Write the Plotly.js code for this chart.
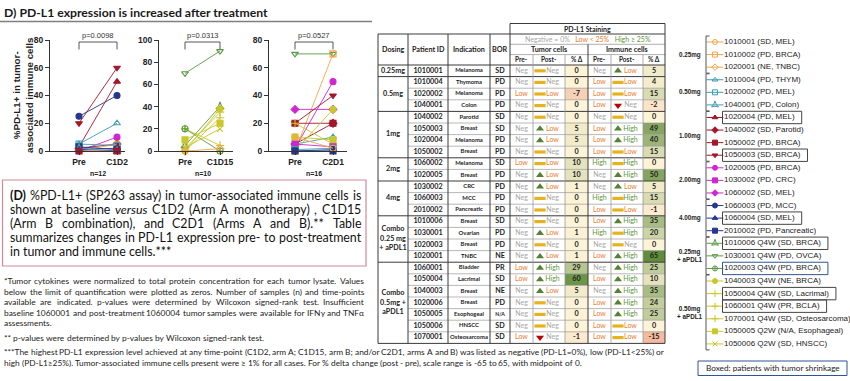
<!DOCTYPE html>
<html><head><meta charset="utf-8">
<script src="https://cdn.plot.ly/plotly-3.0.1.min.js"></script>
<style>html,body{margin:0;padding:0;background:#fff;overflow:hidden}#chart{width:850px;height:381px}</style>
</head><body><div id="chart"></div>
<script>
// ================= DATA =================
const titleText = 'D) PD-L1 expression is increased after treatment';
const yAxisTitle = '%PD-L1+ in tumor-<br>associated immune cells';
const preLabel = 'Pre';
const postLabels = ['C1D2', 'C1D15', 'C2D1'];
const nLabels = ['n=12', 'n=10', 'n=16'];
const pLabels = ['p=0.0098', 'p=0.0313', 'p=0.0527'];
const yTicksA = [0, 20, 40, 60, 80];
const yTicksB = [0, 20, 40, 60, 80, 100];
const yTicksAB = [0, 20, 40, 60, 80];

// Arm A (C1D2)
const armA_ids  = ['1060003','1050003','1020004','1010004','1020005','1040002','1010001','1020002','1060004','2010002','1040001','1050002'];
const armA_pre  = [25, 20, 3, 5, 0, 2, 0, 5, 1, 3, 2, 0];
const armA_post = [40, 60, 50, 20, 10, 5, 5, 4, 2, 1, 0, 0];
// Arm B (C1D15)
const armB_ids  = ['1030001','1060001','1020003','1010006','1040003','1050004','1070001','1050005','1050006','1020001'];
const armB_pre  = [70, 20, 20, 5, 0, 2, 0, 10, 3, 0];
const armB_post = [90, 5, 0, 40, 38, 35, 30, 25, 20, 2];
// Arms A and B (C2D1)
const armAB_ids  = ['1030001','1010002','1060002','1020005','1050003','1050002','1040002','1010004','1060001','1050005','1040003','1030002','1060003','1020002','2010002','1010001'];
const armAB_pre  = [70, 0, 30, 2, 20, 20, 5, 5, 20, 10, 0, 5, 0, 1, 0, 10];
const armAB_post = [70, 70, 30, 50, 40, 20, 20, 10, 5, 8, 30, 3, 1, 2, 0, 2];

// Legend (patients by cohort)
const legendGroups = ['0.25mg', '0.50mg', '1.00mg', '2.00mg', '4.00mg', '0.25mg<br>+ aPDL1', '0.50mg<br>+ aPDL1'];
const legendGroupSizes = [3, 3, 4, 3, 3, 3, 6];
const legendIds = ['1010001','1010002','1020001','1010004','1020002','1040001','1020004','1040002','1050002','1050003',
  '1020005','1030002','1060002','1060003','1060004','2010002','1010006','1030001','1020003',
  '1040003','1050004','1060001','1070001','1050005','1050006'];
const legendLabels = ['1010001 (SD, MEL)','1010002 (PD, BRCA)','1020001 (NE, TNBC)','1010004 (PD, THYM)','1020002 (PD, MEL)',
  '1040001 (PD, Colon)','1020004 (PD, MEL)','1040002 (SD, Parotid)','1050002 (PD, BRCA)','1050003 (SD, BRCA)',
  '1020005 (PD, BRCA)','1030002 (PD, CRC)','1060002 (SD, MEL)','1060003 (PD, MCC)','1060004 (SD, MEL)',
  '2010002 (PD, Pancreatic)','1010006 Q4W (SD, BRCA)','1030001 Q4W (PD, OVCA)','1020003 Q4W (PD, BRCA)',
  '1040003 Q4W (NE, BRCA)','1050004 Q4W (SD, Lacrimal)','1060001 Q4W (PR, BCLA)','1070001 Q4W (SD, Osteosarcoma)',
  '1050005 Q2W (N/A, Esophageal)','1050006 Q2W (SD, HNSCC)'];
const boxedIds = ['1020004','1050003','1060004','1010006','1020003','1050004','1060001'];
const boxedNote = 'Boxed: patients with tumor shrinkage';

// Table
const tblHeadLeft = ['Dosing', 'Patient ID', 'Indication', 'BOR'];
const tblStaining = 'PD-L1 Staining';
const tblLevels = ['Neg', 'Low', 'High'];
const tblLevelKey = ['Negative = 0%', 'Low < 25%', 'High ≥ 25%'];
const tblCellGroups = ['Tumor cells', 'Immune cells'];
const tblSubHead = ['Pre-', 'Post-', '% Δ'];
const tblDosing = ['0.25mg', '0.5mg', '1mg', '2mg', '4mg', 'Combo<br>0.25 mg<br>+ aPDL1', 'Combo<br>0.5mg +<br>aPDL1'];
const tblDosingRows = [1, 3, 4, 2, 3, 4, 7];
const tblIds = ['1010001','1010004','1020002','1040001','1040002','1050003','1020004','1050002','1060002','1020005',
  '1030002','1060003','2010002','1010006','1030001','1020003','1020001','1060001','1050004','1040003','1020006',
  '1050005','1050006','1070001'];
const tblIndication = ['Melanoma','Thymoma','Melanoma','Colon','Parotid','Breast','Melanoma','Breast','Melanoma','Breast',
  'CRC','MCC','Pancreatic','Breast','Ovarian','Breast','TNBC','Bladder','Lacrimal','Breast','Breast','Esophogeal','HNSCC','Osteosarcoma'];
const tblBOR = ['SD','PD','PD','PD','SD','SD','PD','PD','SD','PD','PD','PD','PD','SD','PD','PD','NE','PR','SD','NE','PD','N/A','SD','SD'];
const tumorPre   = ['Neg','Neg','Low','Neg','Neg','Neg','Neg','Neg','Low','Neg','Neg','Neg','Neg','Neg','Neg','Neg','Neg','Low','Low','Neg','Neg','Neg','Neg','Low'];
const tumorPost  = ['Neg','Neg','Low','Neg','Neg','Low','Low','Neg','Low','Low','Low','Neg','Neg','Neg','Low','Neg','Low','High','High','Low','Neg','Neg','Neg','Neg'];
const tumorDelta = [0, 0, -7, 0, 0, 5, 5, 0, 10, 10, 1, 0, 0, 0, 1, 0, 1, 29, 60, 5, 0, 0, 0, -1];
const immunePre  = ['Neg','Low','Low','Low','Neg','Low','Low','Low','High','Neg','Neg','High','Low','Low','High','Neg','Low','Neg','Low','Neg','Low','Low','Low','Low'];
const immunePost = ['Low','Low','Low','Neg','Neg','High','High','Low','High','High','Low','High','Low','High','High','Neg','High','High','High','High','High','High','Low','Low'];
const immuneDelta = [5, 4, 15, -2, 0, 49, 40, 15, 0, 50, 5, 15, -1, 35, 20, 0, 65, 25, 10, 35, 24, 25, 0, -15];

// Text blocks
const paraLines = [
  '<b>(D)</b> %PD-L1+ (SP263 assay) in tumor-associated immune cells is',
  'shown at baseline <i>versus</i> C1D2 (Arm A monotherapy) , C1D15',
  '(Arm B combination), and C2D1 (Arms A and B).** Table',
  'summarizes changes in PD-L1 expression pre- to post-treatment',
  'in tumor and immune cells.***'
];
const noteLines = [
  '*Tumor cytokines were normalized to total protein concentration for each tumor lysate. Values',
  'below the limit of quantification were plotted as zeros. Number of samples (n) and time-points',
  'available are indicated. p-values were determined by Wilcoxon signed-rank test. Insufficient',
  'baseline 1060001 and post-treatment 1060004 tumor samples were available for IFNγ and TNFα',
  'assessments.'
];
const note2 = '** p-values were determined by p-values by Wilcoxon signed-rank test.';
const note3Lines = [
  '***The highest PD-L1 expression level achieved at any time-point (C1D2, arm A; C1D15, arm B; and/or C2D1, arms A and B) was listed as negative (PD-L1=0%), low (PD-L1<25%) or',
  'high (PD-L1≥25%). Tumor-associated immune cells present were ≥ 1% for all cases. For % delta change (post - pre), scale range is -65 to 65, with midpoint of 0.'
];

// ================= STYLE / LAYOUT =================
const W = 850, H = 381;
const FT = 'Lato';
const FA = '"Liberation Sans"';
const cohortColors = ['#F5A54B', '#3D9DB3', '#A3162B', '#CF27CF', '#26378F', '#5B9A45', '#C9C72C'];
const symbolOf = {
  '1010001':'circle-open','1010002':'square-open','1020001':'diamond-open',
  '1010004':'triangle-up-open','1020002':'square-open','1040001':'star-triangle-up-open',
  '1020004':'triangle-up','1040002':'diamond','1050002':'square','1050003':'triangle-down',
  '1020005':'circle','1030002':'square','1060002':'diamond',
  '1060003':'circle','1060004':'triangle-up','2010002':'square',
  '1010006':'star-triangle-up-open','1030001':'triangle-down-open','1020003':'circle-cross-open',
  '1040003':'circle','1050004':'cross-thin-open','1060001':'cross-thin-open','1070001':'cross-thin-open',
  '1050005':'square','1050006':'x-thin-open'
};
const cohortOf = {};
(function(){ let k = 0; legendGroupSizes.forEach((n, g) => { for (let j = 0; j < n; j++) cohortOf[legendIds[k++]] = g; }); })();
const colorOf = id => cohortColors[cohortOf[id]];

const ctx = document.createElement('canvas').getContext('2d');
function fontStr(sz, b, i, fam) { return (i ? 'italic ' : '') + (b ? 'bold ' : '') + sz + 'px ' + fam; }
function meas(t, sz, fam, b, i) { ctx.font = fontStr(sz, b, i, fam); return ctx.measureText(t).width; }
function wordsOf(line) {
  return line.split(' ').filter(s => s.length).map(w => {
    let m;
    if ((m = w.match(/^<b>(.*)<\/b>$/))) return {t: m[1], b: true, i: false};
    if ((m = w.match(/^<i>(.*)<\/i>$/))) return {t: m[1], b: false, i: true};
    return {t: w, b: false, i: false};
  });
}
function natW(line, sz, fam) {
  const ws = wordsOf(line);
  let t = 0; ws.forEach(w => t += meas(w.t, sz, fam, w.b, w.i));
  return t + meas(' ', sz, fam) * (ws.length - 1);
}
const esc = s => s.replace(/&/g, '&amp;').replace(/</g, '&lt;').replace(/>/g, '&gt;');
const annotations = [];
const shapes = [];
const data = [];
function A(x, y, text, o) {
  return Object.assign({xref: 'x4', yref: 'y4', x: x, y: y, text: text, showarrow: false,
    xanchor: 'center', yanchor: 'middle', borderpad: 0, font: {family: FT, size: 7, color: '#222'}}, o || {});
}
function placeLine(line, x0, x1, y, sz, fam, color, just) {
  const ws = wordsOf(line);
  const widths = ws.map(w => meas(w.t, sz, fam, w.b, w.i));
  const sp = meas(' ', sz, fam);
  const tot = widths.reduce((a, b) => a + b, 0);
  const gap = (just && ws.length > 1) ? Math.max(sp * 0.6, (x1 - x0 - tot) / (ws.length - 1)) : sp;
  let x = x0;
  ws.forEach((w, k) => {
    let txt = esc(w.t);
    if (w.b) txt = '<b>' + txt + '</b>';
    if (w.i) txt = '<i>' + txt + '</i>';
    annotations.push(A(x, y, txt, {xanchor: 'left', font: {family: fam, size: sz, color: color}}));
    x += widths[k] + gap;
  });
}
function fitSize(lines, target, maxSz, fam) {
  let s = maxSz;
  lines.forEach(l => { const w = natW(l, 10, fam); s = Math.min(s, 10 * target / w); });
  return s;
}

// ---------- title ----------
const titleSize = Math.min(14, 10 * 264 / meas(titleText, 10, FT, true));
annotations.push(A(3, 12, '<b>' + titleText + '</b>', {xanchor: 'left', font: {family: FT, size: titleSize, color: '#1a1a1a'}}));
shapes.push({type: 'line', xref: 'x4', yref: 'y4', x0: 0, x1: 372, y0: 21.5, y1: 21.5, line: {color: '#7f7f7f', width: 1.5}});

// ---------- panels ----------
const panels = [
  {ids: armA_ids, pre: armA_pre, post: armA_post, yt: yTicksA},
  {ids: armB_ids, pre: armB_pre, post: armB_post, yt: yTicksB},
  {ids: armAB_ids, pre: armAB_pre, post: armAB_post, yt: yTicksAB}
];
const panelXpx = [[50, 125], [159, 233], [269, 347]];
const panelXrange = [[-0.763, 1.21], [-0.743, 1.371], [-0.684, 1.368]];
const PY = [40, 151];
const layout = {
  width: W, height: H, margin: {l: 0, r: 0, t: 0, b: 0},
  paper_bgcolor: '#fff', plot_bgcolor: 'rgba(0,0,0,0)', showlegend: false,
  xaxis4: {domain: [0, 1], range: [0, W], visible: false, fixedrange: true, anchor: 'y4'},
  yaxis4: {domain: [0, 1], range: [H, 0], visible: false, fixedrange: true, anchor: 'x4'}
};
panels.forEach((P, i) => {
  const s = i === 0 ? '' : String(i + 1);
  const ymax = Math.max.apply(null, P.yt);
  layout['xaxis' + s] = {domain: [panelXpx[i][0] / W, panelXpx[i][1] / W], range: panelXrange[i], anchor: 'y' + s,
    tickvals: [0, 1], ticktext: [preLabel, postLabels[i]], showline: true, linecolor: '#333', linewidth: 1,
    ticks: 'outside', ticklen: 3, tickcolor: '#333', showgrid: false, zeroline: false, fixedrange: true,
    tickfont: {family: FA, size: 8.5, color: '#222', weight: 'bold'}};
  layout['yaxis' + s] = {domain: [1 - PY[1] / H, 1 - PY[0] / H], range: [0, ymax], anchor: 'x' + s,
    tickvals: P.yt, showline: true, linecolor: '#333', linewidth: 1, ticks: 'outside', ticklen: 4, tickcolor: '#333',
    showgrid: false, zeroline: false, fixedrange: true, tickfont: {family: FA, size: 8.5, color: '#222', weight: 'bold'}};
  P.ids.forEach((id, k) => {
    const c = colorOf(id);
    data.push({type: 'scatter', x: [0, 1], y: [P.pre[k], P.post[k]], xaxis: 'x' + s, yaxis: 'y' + s,
      mode: 'lines+markers', cliponaxis: false, hoverinfo: 'skip',
      line: {color: c, width: 0.9}, marker: {symbol: symbolOf[id], size: 6, color: c, line: {color: c, width: 1.1}}});
  });
  const hi = ymax * 0.982, lo = ymax * 0.915;
  shapes.push({type: 'path', xref: 'x' + s, yref: 'y' + s, path: `M0,${lo} L0,${hi} L1,${hi} L1,${lo}`, line: {color: '#444', width: 0.9}});
  annotations.push({xref: 'x' + s, yref: 'paper', x: 0.5, y: 1 - 35.5 / H, xanchor: 'center', yanchor: 'middle', text: pLabels[i], showarrow: false,
    font: {family: FA, size: 7.5, color: '#333'}});
  annotations.push({xref: 'x' + s, yref: 'paper', x: 0.5, y: 1 - 173.5 / H, xanchor: 'center', yanchor: 'middle', text: '<b>' + nLabels[i] + '</b>', showarrow: false,
    font: {family: FA, size: 7, color: '#222'}});
});
annotations.push(A(23, 95, '<b>' + yAxisTitle + '</b>', {textangle: -90, font: {family: FA, size: 9.8, color: '#222'}}));

// ---------- description box ----------
shapes.push({type: 'rect', xref: 'x4', yref: 'y4', x0: 2.5, x1: 366, y0: 180, y1: 266, line: {color: '#D48896', width: 1.2}});
const paraSize = fitSize(paraLines.slice(0, 4), 351, 12.4, FT);
const paraY = [195, 209, 223, 237, 251];
paraLines.forEach((l, k) => placeLine(l, 9, 360, paraY[k], paraSize, FT, '#111', k < paraLines.length - 1));

// ---------- footnotes ----------
const noteSize1 = fitSize(noteLines.slice(0, 4), 360, 8.4, FT);
const noteSize3 = fitSize([note3Lines[0]], 660, 8.4, FT);
const noteY = [281, 292, 302, 313, 323];
noteLines.forEach((l, k) => placeLine(l, 3, 363, noteY[k], noteSize1, FT, '#222', k < noteLines.length - 1));
placeLine(note2, 3, 363, 338, noteSize1, FT, '#222', false);
placeLine(note3Lines[0], 3, 663, 352, noteSize3, FT, '#222', true);
placeLine(note3Lines[1], 3, 663, 363, noteSize3, FT, '#222', false);

// ---------- table ----------
const COLX = [378, 408, 448, 490, 510, 533, 565, 588, 611, 643, 665];
const ROW0 = 65, ROWH = 11.6, NR = tblIds.length, TB = ROW0 + ROWH * NR;
const rowTop = i => ROW0 + i * ROWH;
const rowMid = i => ROW0 + (i + 0.5) * ROWH;
const lvColor = {Neg: '#A6A6A6', Low: '#ED7D31', High: '#5E9638'};
const lvRank = {Neg: 0, Low: 1, High: 2};
function hex2rgb(h) { return [1, 3, 5].map(k => parseInt(h.substr(k, 2), 16)); }
function mix(a, b, t) { const X = hex2rgb(a), Y = hex2rgb(b); return 'rgb(' + X.map((v, k) => Math.round(v + (Y[k] - v) * t)).join(',') + ')'; }
function deltaColor(v) {
  const t = Math.min(1, Math.abs(v) / 65);
  return v >= 0 ? mix('#FDF3D6', '#5F8D3B', t) : mix('#FDF3D6', '#E0533A', Math.pow(t, 0.7));
}
for (let i = 0; i < NR; i++) {
  shapes.push({type: 'rect', xref: 'x4', yref: 'y4', layer: 'below', x0: COLX[6], x1: COLX[7], y0: rowTop(i), y1: rowTop(i + 1), fillcolor: deltaColor(tumorDelta[i]), line: {width: 0}});
  shapes.push({type: 'rect', xref: 'x4', yref: 'y4', layer: 'below', x0: COLX[9], x1: COLX[10], y0: rowTop(i), y1: rowTop(i + 1), fillcolor: deltaColor(immuneDelta[i]), line: {width: 0}});
}
const L = (x0, y0, x1, y1, c, w) => shapes.push({type: 'line', xref: 'x4', yref: 'y4', x0, y0, x1, y1, line: {color: c, width: w}});
const DARK = '#3a3a3a', GREY = '#9a9a9a';
const grpStart = [0]; tblDosingRows.forEach(n => grpStart.push(grpStart[grpStart.length - 1] + n));
for (let i = 1; i < NR; i++) if (grpStart.indexOf(i) < 0) L(COLX[1], rowTop(i), COLX[10], rowTop(i), GREY, 0.7);
grpStart.forEach(g => L(COLX[0], rowTop(g), COLX[10], rowTop(g), DARK, 1));
const HS = [23.5, 34, 44.3, 54.6];
L(COLX[4], HS[0], COLX[10], HS[0], DARK, 1);
L(COLX[0], HS[1], COLX[10], HS[1], DARK, 1);
L(COLX[4], HS[2], COLX[10], HS[2], GREY, 0.8);
L(COLX[4], HS[3], COLX[10], HS[3], GREY, 0.8);
[0, 1, 2, 3].forEach(c => L(COLX[c], HS[1], COLX[c], TB, DARK, 1));
[4, 10].forEach(c => L(COLX[c], HS[0], COLX[c], TB, DARK, 1));
L(COLX[7], HS[2], COLX[7], TB, DARK, 1);
[5, 6, 8, 9].forEach(c => L(COLX[c], HS[3], COLX[c], TB, GREY, 0.8));
const mid = (a, b) => (a + b) / 2;
annotations.push(A(mid(COLX[4], COLX[10]), 29, '<b>' + tblStaining + '</b>', {font: {family: FT, size: 7, color: '#222'}}));
annotations.push(A(mid(COLX[4], COLX[10]), 39.3,
  tblLevelKey.map((t, k) => `<span style="color:${lvColor[tblLevels[k]]}">${esc(t)}</span>`).join('   '),
  {font: {family: FT, size: 7, color: '#222'}}));
annotations.push(A(mid(COLX[4], COLX[7]), 49.5, '<b>' + tblCellGroups[0] + '</b>', {font: {family: FT, size: 7.2, color: '#222'}}));
annotations.push(A(mid(COLX[7], COLX[10]), 49.5, '<b>' + tblCellGroups[1] + '</b>', {font: {family: FT, size: 7.2, color: '#222'}}));
[4, 7].forEach(c0 => tblSubHead.forEach((t, k) => annotations.push(A(mid(COLX[c0 + k], COLX[c0 + k + 1]), 59.8, '<b>' + t + '</b>', {font: {family: FT, size: 6.5, color: '#222'}}))));
tblHeadLeft.forEach((t, k) => annotations.push(A(mid(COLX[k], COLX[k + 1]), 49.5, '<b>' + t + '</b>', {font: {family: FT, size: 7.2, color: '#222'}})));

const idx = tblIds.map((_, i) => i);
const txt = (xs, ys, texts, size, colors) => data.push({type: 'scatter', mode: 'text', xaxis: 'x4', yaxis: 'y4',
  x: xs, y: ys, text: texts, textposition: 'middle center', cliponaxis: false, hoverinfo: 'skip',
  textfont: {family: FT, size: size, color: colors}});
txt(tblDosing.map(() => mid(COLX[0], COLX[1])), tblDosingRows.map((n, g) => ROW0 + (grpStart[g] + n / 2) * ROWH),
  tblDosing.map(t => '<b>' + t + '</b>'), 7.2, '#222');
txt(idx.map(() => mid(COLX[1], COLX[2])), idx.map(rowMid), tblIds.map(t => '<b>' + t + '</b>'), 7.2, '#222');
txt(idx.map(() => mid(COLX[2], COLX[3])), idx.map(rowMid), tblIndication.map(t => '<b>' + t + '</b>'), 5.9, '#222');
txt(idx.map(() => mid(COLX[3], COLX[4])), idx.map(rowMid), tblBOR.map(t => '<b>' + t + '</b>'), tblBOR.map(t => t.length > 2 ? 5.2 : 7.2), '#222');
[[tumorPre, tumorPost, tumorDelta, 4], [immunePre, immunePost, immuneDelta, 7]].forEach(([pre, post, dl, c0]) => {
  txt(idx.map(() => mid(COLX[c0], COLX[c0 + 1])), idx.map(rowMid), pre, 7, pre.map(v => lvColor[v]));
  txt(idx.map(() => COLX[c0 + 1] + 19.5), idx.map(rowMid), post, 7, post.map(v => lvColor[v]));
  txt(idx.map(() => mid(COLX[c0 + 2], COLX[c0 + 3])), idx.map(rowMid), dl.map(v => '<b>' + v + '</b>'), 7.2, '#222');
  const trend = idx.map(i => Math.sign(lvRank[post[i]] - lvRank[pre[i]]));
  const sel = s => idx.filter(i => trend[i] === s);
  const ix = COLX[c0 + 1] + 7;
  [[1, 'triangle-up', '#548235', 7, 0], [-1, 'triangle-down', '#C00000', 7, 0], [0, 'line-ew-open', '#E6B31E', 8, 3.2]].forEach(([s, sym, col, sz, lw]) => {
    const r = sel(s);
    data.push({type: 'scatter', mode: 'markers', xaxis: 'x4', yaxis: 'y4', x: r.map(() => ix), y: r.map(rowMid), cliponaxis: false, hoverinfo: 'skip',
      marker: {symbol: sym, size: sz, color: col, line: {color: col, width: lw}}});
  });
});

// ---------- patient legend ----------
const LG0 = 42, LGS = 12.58, LMX = 715, LTX = 724, LFS = 8;
const legY = i => LG0 + i * LGS;
const lidx = legendIds.map((_, i) => i);
data.push({type: 'scatter', mode: 'markers', xaxis: 'x4', yaxis: 'y4', x: lidx.map(() => LMX), y: lidx.map(legY), hoverinfo: 'skip', cliponaxis: false,
  marker: {symbol: 'line-ew-open', size: 12, color: legendIds.map(colorOf), line: {width: 1}}});
data.push({type: 'scatter', mode: 'markers', xaxis: 'x4', yaxis: 'y4', x: lidx.map(() => LMX), y: lidx.map(legY), hoverinfo: 'skip', cliponaxis: false,
  marker: {symbol: legendIds.map(id => symbolOf[id]), size: 5, color: legendIds.map(colorOf), line: {color: legendIds.map(colorOf), width: 1}}});
data.push({type: 'scatter', mode: 'text', xaxis: 'x4', yaxis: 'y4', x: lidx.map(() => LTX), y: lidx.map(legY), text: legendLabels,
  textposition: 'middle right', hoverinfo: 'skip', cliponaxis: false, textfont: {family: FA, size: LFS, color: '#222'}});
let gk = 0;
legendGroupSizes.forEach((n, g) => {
  const y0 = legY(gk) - 6, y1 = legY(gk + n - 1) + 6;
  shapes.push({type: 'path', xref: 'x4', yref: 'y4', path: `M709.5,${y0} L706,${y0} L706,${y1} L709.5,${y1}`, line: {color: '#555', width: 1}});
  annotations.push(A(689.5, (y0 + y1) / 2, '<b>' + legendGroups[g] + '</b>', {font: {family: FA, size: 6.3, color: '#222'}}));
  gk += n;
});
legendIds.forEach((id, i) => {
  if (boxedIds.indexOf(id) < 0) return;
  const w = meas(legendLabels[i], LFS, FA);
  shapes.push({type: 'rect', xref: 'x4', yref: 'y4', x0: 722.5, x1: LTX + 3 + w + 4, y0: legY(i) - 6.2, y1: legY(i) + 6.2,
    line: {color: id === '1020003' ? '#2F5597' : '#444', width: 1}});
});
shapes.push({type: 'rect', xref: 'x4', yref: 'y4', x0: 698, x1: 847, y0: 361, y1: 375.5, line: {color: '#2F5597', width: 1}});
annotations.push(A(772.5, 368.3, boxedNote, {font: {family: FT, size: 8.2, color: '#222'}}));

layout.shapes = shapes;
layout.annotations = annotations;
Plotly.newPlot('chart', data, layout, {displayModeBar: false, staticPlot: true});
</script>
</body></html>
